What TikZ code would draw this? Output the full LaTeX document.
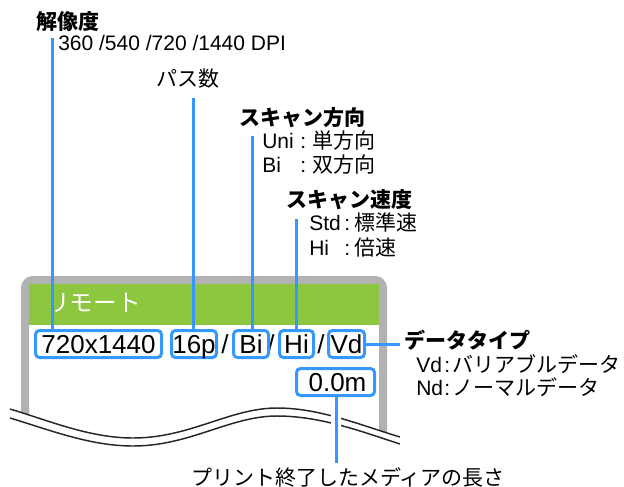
\documentclass[tikz,border=0pt]{standalone}
\usepackage{fontspec}
\setmainfont{Liberation Sans}
\newfontfamily\jp{Noto Sans CJK JP}
\definecolor{lblue}{RGB}{52,152,255}
\definecolor{fgray}{RGB}{178,178,178}
\definecolor{lgreen}{RGB}{141,198,63}
\begin{document}
\begin{tikzpicture}[x=0.75pt,y=-0.75pt,
  txt/.style={inner sep=0pt, anchor=base west, font=\fontsize{15.75pt}{18pt}\selectfont},
  head/.style={inner sep=0pt, anchor=base west, font=\fontsize{15.75pt}{18pt}\selectfont\jp\bfseries},
  vbox/.style={draw=lblue, line width=2.25pt, rounded corners=3pt, fill=white, inner xsep=0pt, inner ysep=0pt,
    minimum height=20.25pt, text height=16.5pt, text depth=3pt, font=\fontsize{19.5pt}{22pt}\selectfont},
  slash/.style={inner sep=0pt, anchor=base, font=\fontsize{19.5pt}{22pt}\selectfont},
  conn/.style={lblue, line width=2.25pt},
  wave/.style={line width=1.1pt, black!85}]
\useasboundingbox (0,0) rectangle (624,486);
\clip (0,0) rectangle (624,486);
% frame
\draw[fgray, line width=6pt, rounded corners=6pt] (25,450) -- (25,280) -- (383,280) -- (383,450);
\fill[lgreen] (29,284) rectangle (379,325);
\node[inner sep=0pt, anchor=base west, text=white, font=\fontsize{17.75pt}{20pt}\selectfont\jp] (remote) at (46,311) {リモート};
% wave cut
\fill[white] (10,409) .. controls (50,421) and (90,438) .. (133,438) .. controls (190,438) and (230,408) .. (277,408) .. controls (320,408) and (360,425) .. (400,437) -- (400,470) -- (10,470) -- cycle;
\draw[wave] (10,409) .. controls (50,421) and (90,438) .. (133,438) .. controls (190,438) and (230,408) .. (277,408) .. controls (320,408) and (360,425) .. (400,437);
\draw[wave] (10,418) .. controls (50,430) and (90,446) .. (133,446) .. controls (190,446) and (230,416) .. (277,416) .. controls (320,416) and (360,431) .. (400,444);
% slashes
\node[slash] (s1) at (225,353) {/};
\node[slash] (s2) at (271,353) {/};
\node[slash] (s3) at (321,353) {/};
% boxes
\node[vbox, minimum width=94.5pt] (b1) at (98.5,344) {720x1440};
\node[vbox, minimum width=33.75pt] (b2) at (194,344) {16p};
\node[vbox, minimum width=26.25pt] (b3) at (251,344) {Bi};
\node[vbox, minimum width=25.5pt] (b4) at (296.5,344) {Hi};
\node[vbox, minimum width=27pt] (b5) at (346.5,344) {Vd};
\node[vbox, minimum width=58.5pt] (b6) at (335.5,382) {\hspace{3pt}0.0m};
% connectors
\coordinate (t1) at (52,38);
\coordinate (t2) at (193,98);
\coordinate (t3) at (252,136);
\coordinate (t4) at (296,219);
\coordinate (t5) at (400,344);
\coordinate (t6) at (336,463);
\draw[conn] (t1) -- (t1 |- b1.north);
\draw[conn] (t2) -- (t2 |- b2.north);
\draw[conn] (t3) -- (t3 |- b3.north);
\draw[conn] (t4) -- (t4 |- b4.north);
\draw[conn] (b5.east) -- (t5);
\draw[white, line width=7pt] (336,403) -- (336,452);
\draw[conn] (b6.south -| t6) -- (t6);
% texts
\node[head] (hres) at (36,29) {解像度};
\node[txt] (dpi) at (58,50) {360 /540 /720 /1440 DPI};
\node[txt] (pass) at (156,86) {\jp パス数};
\node[head] (hdir) at (239,125) {スキャン方向};
\node[txt] (uni) at (262,148) {\makebox[28.5pt][l]{Uni}\makebox[9pt][l]{:}{\jp 単方向}};
\node[txt] (bi) at (262,172) {\makebox[28.5pt][l]{Bi}\makebox[9pt][l]{:}{\jp 双方向}};
\node[head] (hspd) at (286,207) {スキャン速度};
\node[txt] (std) at (309,230) {\makebox[26.25pt][l]{Std}\makebox[7.5pt][l]{:}{\jp 標準速}};
\node[txt] (hi) at (309,255) {\makebox[26.25pt][l]{Hi}\makebox[7.5pt][l]{:}{\jp 倍速}};
\node[head] (htype) at (404,348) {データタイプ};
\node[txt] (vd) at (416,372) {\makebox[21pt][l]{Vd}\makebox[6pt][l]{:}{\jp バリアブルデータ}};
\node[txt] (nd) at (416,395) {\makebox[21pt][l]{Nd}\makebox[6pt][l]{:}{\jp ノーマルデータ}};
\node[txt] (len) at (191,485) {\jp プリント終了したメディアの長さ};
\end{tikzpicture}
\end{document}
